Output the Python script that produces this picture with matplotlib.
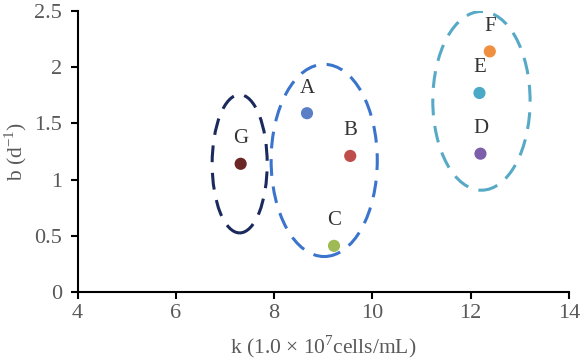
import matplotlib
matplotlib.use('Agg')
import matplotlib.pyplot as plt
from matplotlib.patches import Ellipse

# данные точек
names = ['A', 'B', 'C', 'D', 'E', 'F', 'G']
k_vals = [8.67, 9.55, 9.22, 12.2, 12.18, 12.39, 7.32]
b_vals = [1.59, 1.21, 0.41, 1.23, 1.77, 2.14, 1.14]
colors = ['#5A7FC6', '#BF4D4A', '#9DBA55', '#7D5EA8', '#4BA9C8', '#EE9040', '#6B2725']

# группы (эллипсы): центр, ширина, высота, цвет
grp_cx = [7.30, 9.02, 12.22]
grp_cy = [1.14, 1.17, 1.70]
grp_w = [1.12, 2.16, 1.98]
grp_h = [1.23, 1.71, 1.59]
grp_col = ['#1B2A5C', '#3A74CC', '#56AAC6']

plt.rcParams['font.family'] = ['Liberation Serif', 'DejaVu Serif']
plt.rcParams['mathtext.fontset'] = 'custom'
plt.rcParams['mathtext.rm'] = 'Liberation Serif'

fig = plt.figure(figsize=(5.85, 3.64), dpi=100)
ax = fig.add_axes([0.1325, 0.198, 0.840, 0.772])

for i in range(len(grp_cx)):
    e = Ellipse((grp_cx[i], grp_cy[i]), grp_w[i], grp_h[i], fill=False,
                edgecolor=grp_col[i], lw=2.2, linestyle=(0, (5.5, 3.5)))
    ax.add_patch(e)

ax.scatter(k_vals, b_vals, s=60, c=colors, zorder=3)
for n, x, y in zip(names, k_vals, b_vals):
    ax.annotate(n, (x, y), xytext=(0, 18), textcoords='offset points',
                ha='center', va='center', fontsize=15, color='#333333')

ax.set_xlim(4, 14)
ax.set_ylim(0, 2.5)
ax.set_xticks([4, 6, 8, 10, 12, 14])
ax.set_yticks([0, 0.5, 1, 1.5, 2, 2.5])
ax.set_yticklabels(['0', '0.5', '1', '1.5', '2', '2.5'])
for s in ['top', 'right']:
    ax.spines[s].set_visible(False)
for s in ['left', 'bottom']:
    ax.spines[s].set_linewidth(1.5)
ax.tick_params(direction='out', length=5, width=1.5, labelsize=16,
               labelcolor='#595959')
ax.tick_params(axis='y', pad=6)
ax.set_xlabel('k (1.0 × 10$^{\\mathregular{7}}$cells/mL)', fontsize=15.5,
              color='#595959', labelpad=8)
ax.set_ylabel('b (d$^{\\mathregular{-1}}$)', fontsize=15.5, color='#595959')

fig.savefig('out.png', dpi=100)
